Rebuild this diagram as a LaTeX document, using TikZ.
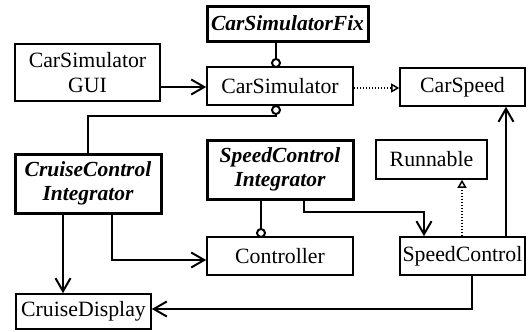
\documentclass[tikz,border=0pt]{standalone}
\usepackage{fontspec}
\setmainfont{Liberation Serif}
\usetikzlibrary{arrows.meta}
\begin{document}
\begin{tikzpicture}[x=1pt,y=-1pt,
  box/.style={draw, line width=1.6pt, inner sep=0pt, align=center,
    font=\fontsize{21.8}{24.5}\selectfont},
  tbox/.style={box, line width=3pt, font=\fontsize{21.5}{24.5}\selectfont\bfseries\itshape},
  con/.style={line width=2pt},
  arr/.style={con, -{Straight Barb[length=13pt,width=15pt,line width=2pt]}},
  realize/.style={line width=1.5pt, dash pattern=on 1.5pt off 1.5pt,
    -{Triangle[open,length=8pt,width=9pt,line width=1.5pt,fill=white]}},
  lolli/.style={circle, draw, fill=white, line width=2pt, minimum size=8pt, inner sep=0pt}
]
\useasboundingbox (0,0) rectangle (528,332);
% boxes
\node[tbox, minimum width=161pt, minimum height=35pt] (fix) at (287.5,23.5) {CarSimulatorFix};
\node[box, minimum width=145pt, minimum height=57pt] (gui) at (87.5,72.5) {CarSimulator\\GUI};
\node[box, minimum width=146pt, minimum height=38pt] (sim) at (280,86) {CarSimulator};
\node[box, minimum width=125pt, minimum height=38pt] (speed) at (462.5,87) {CarSpeed};
\node[tbox, minimum width=146pt, minimum height=59pt] (cci) at (88,183.5) {CruiseControl\\Integrator};
\node[tbox, minimum width=146pt, minimum height=59pt] (sci) at (280,169.5) {SpeedControl\\Integrator};
\node[box, minimum width=111pt, minimum height=39pt] (run) at (431.5,159.5) {Runnable};
\node[box, minimum width=146pt, minimum height=38pt] (ctrl) at (280,256) {Controller};
\node[box, minimum width=125pt, minimum height=38pt] (sc) at (462.5,256) {SpeedControl};
\node[box, minimum width=135pt, minimum height=35pt] (disp) at (83.5,311.5) {CruiseDisplay};
% lollipops
\node[lolli] (l1) at (276,63) {};
\node[lolli] (l2) at (276,110) {};
\node[lolli] (l3) at (261,233) {};
% connectors
\draw[arr] (gui.east |- 0,87) -- (sim.west |- 0,87);
\draw[con] (fix.south -| l1) -- (l1.north);
\draw[con] (cci.north -| 88,0) |- (276,116) -- (l2.south);
\draw[realize] (sim.east |- 0,88) -- (speed.west |- 0,88);
\draw[arr] (sc.north -| 506,0) -- (speed.south -| 506,0);
\draw[realize] (sc.north -| 462,0) -- (run.south -| 462,0);
\draw[arr] (sci.south -| 304,0) |- (424,212) -- (sc.north -| 424,0);
\draw[con] (sci.south -| l3) -- (l3.north);
\draw[arr] (cci.south -| 63,0) -- (disp.north -| 63,0);
\draw[arr] (cci.south -| 112,0) |- (ctrl.west |- 0,260);
\draw[arr] (sc.south -| 472,0) |- (disp.east |- 0,309);
\end{tikzpicture}
\end{document}
